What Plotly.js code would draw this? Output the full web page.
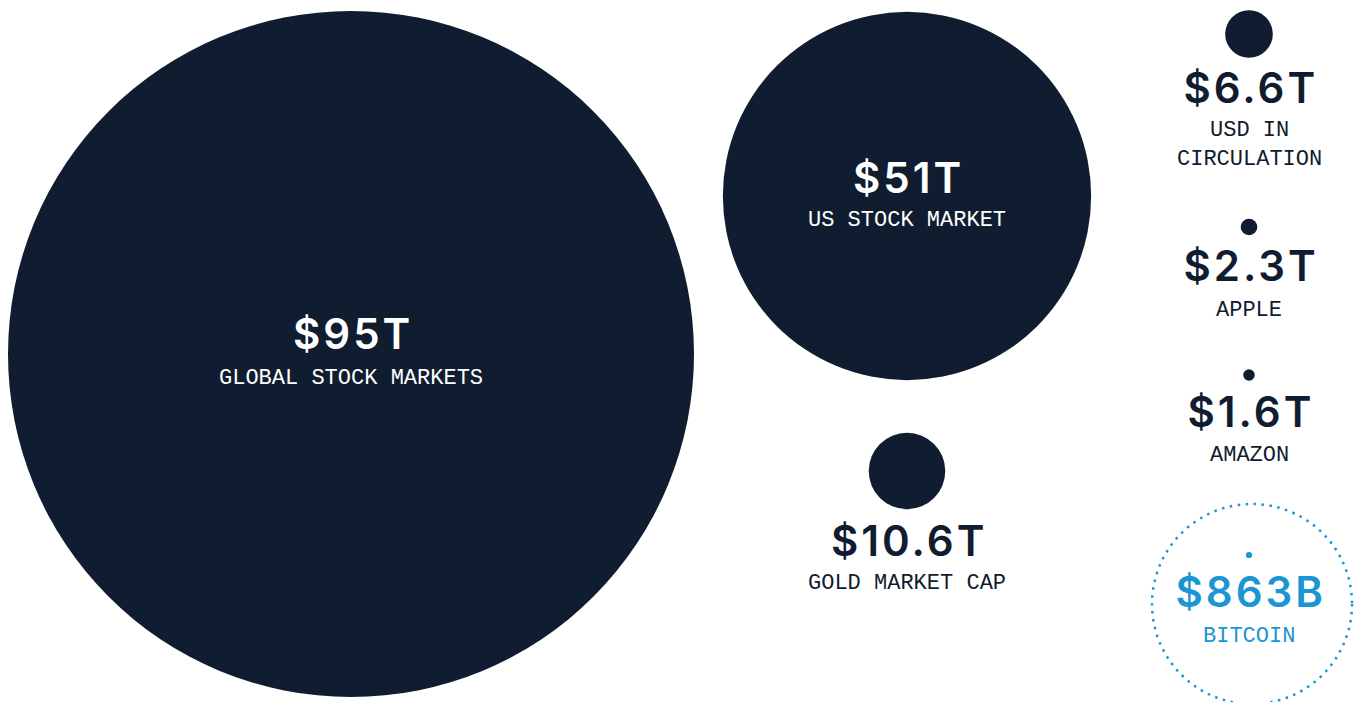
<!DOCTYPE html>
<html>
<head>
<meta charset="utf-8">
<script src="https://cdn.plot.ly/plotly-3.0.1.min.js"></script>
<style>
html,body{margin:0;padding:0;background:#fff;}
#chart{width:1356px;height:702px;}
.valtxt{letter-spacing:3px;}
</style>
</head>
<body>
<div id="chart"></div>
<script>
// Data
var names = ["GLOBAL STOCK MARKETS", "US STOCK MARKET", "GOLD MARKET CAP", "USD IN<br>CIRCULATION", "APPLE", "AMAZON", "BITCOIN"];
var valuesT = [95, 51, 10.6, 6.6, 2.3, 1.6, 0.863];
var valueLabels = ["$95T", "$51T", "$10.6T", "$6.6T", "$2.3T", "$1.6T", "$863B"];

// Layout positions (pixel space)
var cx = [351, 907, 907, 1249, 1249, 1249, 1249];
var cy = [354, 196, 471, 34, 227, 375, 555];
var valY = [333, 177, 540, 87, 265, 411, 591];
var nameY = [378, 220, 583, 145, 310, 455, 636];
var inside = [true, true, false, false, false, false, false];

var NAVY = "#101c2f";
var BLUE = "#1b96d2";
var colors = valuesT.map(function(v, i){ return i === 6 ? BLUE : NAVY; });

var trace = {
  type: "scatter", mode: "markers",
  x: cx, y: cy,
  marker: {
    size: valuesT, sizemode: "diameter", sizeref: 95/686,
    color: colors, line: {width: 0}, opacity: 1
  },
  hoverinfo: "skip"
};

var annotations = [];
for (var i = 0; i < names.length; i++) {
  var tc = inside[i] ? "#ffffff" : (i === 6 ? BLUE : NAVY);
  annotations.push({
    x: cx[i] + 1.5, y: valY[i], xref: "x", yref: "y", showarrow: false,
    text: valueLabels[i], xanchor: "center", yanchor: "middle",
    font: {family: "Inter, 'DejaVu Sans', sans-serif", size: 42, color: tc, weight: 600}
  });
  annotations.push({
    x: cx[i], y: nameY[i], xref: "x", yref: "y", showarrow: false,
    text: names[i], xanchor: "center", yanchor: "middle",
    font: {family: "'Liberation Mono', 'DejaVu Sans Mono', monospace", size: 22, color: tc}
  });
}

var layout = {
  width: 1356, height: 702,
  margin: {l: 0, r: 0, t: 0, b: 0},
  paper_bgcolor: "#ffffff", plot_bgcolor: "#ffffff",
  showlegend: false,
  xaxis: {range: [0, 1356], visible: false, fixedrange: true},
  yaxis: {range: [702, 0], visible: false, fixedrange: true},
  annotations: annotations,
  shapes: [{
    type: "circle", xref: "x", yref: "y",
    x0: 1252 - 100, x1: 1252 + 100, y0: 604 - 100, y1: 604 + 100,
    line: {color: BLUE, width: 2.5, dash: "2.5px,5.5px"}, fillcolor: "rgba(0,0,0,0)"
  }]
};

Plotly.newPlot("chart", [trace], layout, {displayModeBar: false, staticPlot: true}).then(function(gd){
  var anns = gd.querySelectorAll(".annotation");
  anns.forEach(function(a, k){
    if (k % 2 === 0) {
      var t = a.querySelector("text");
      if (t) t.classList.add("valtxt");
    }
  });
});
</script>
</body>
</html>
